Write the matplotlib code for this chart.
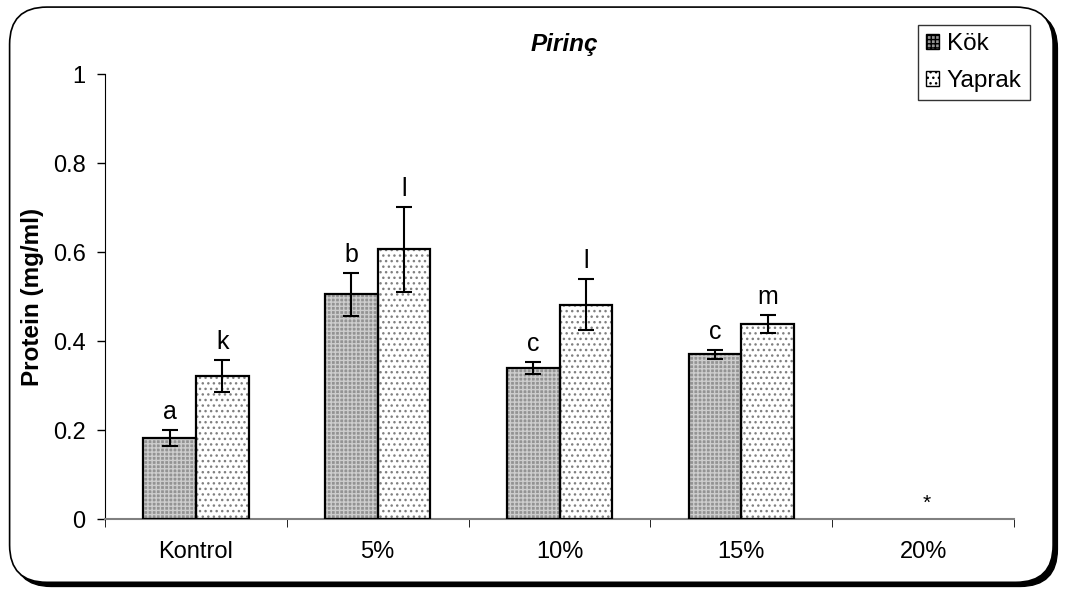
import numpy as np
import matplotlib.pyplot as plt
from matplotlib.patches import FancyBboxPatch, Patch

plt.rcParams['font.family'] = ['Liberation Sans', 'DejaVu Sans']
plt.rcParams['hatch.linewidth'] = 1.0

categories = ['Kontrol', '5%', '10%', '15%', '20%']
kok = [0.182, 0.505, 0.340, 0.370, 0.0]
kok_err = [0.018, 0.048, 0.013, 0.010, 0.0]
yaprak = [0.322, 0.606, 0.482, 0.438, 0.0]
yaprak_err = [0.036, 0.096, 0.058, 0.020, 0.0]
kok_letters = ['a', 'b', 'c', 'c', '']
yaprak_letters = ['k', 'l', 'l', 'm', '']

fig = plt.figure(figsize=(10.67, 5.9), dpi=100)

# rounded frame with shadow
shadow = FancyBboxPatch((0.013, 0.006), 0.978, 0.975, boxstyle="round,pad=0,rounding_size=0.035",
                        transform=fig.transFigure, facecolor='black', edgecolor='black',
                        mutation_aspect=1.8, zorder=-2)
frame = FancyBboxPatch((0.009, 0.013), 0.978, 0.975, boxstyle="round,pad=0,rounding_size=0.035",
                       transform=fig.transFigure, facecolor='white', edgecolor='black', lw=1.2,
                       mutation_aspect=1.8, zorder=-1)
fig.patches.extend([shadow, frame])

ax = fig.add_axes([0.0984, 0.1203, 0.852, 0.754])
ax.patch.set_alpha(0)

x = np.arange(len(categories))
w = 0.29

# Kök: gray with light grid of dots
ax.bar(x[:4] - w / 2, kok[:4], w, color='#939393', edgecolor='#cdcdcd', hatch='++++', lw=0, zorder=2)
ax.bar(x[:4] - w / 2, kok[:4], w, fill=False, edgecolor='black', lw=1.6, zorder=3)
# Yaprak: white with gray dots
ax.bar(x[:4] + w / 2, yaprak[:4], w, color='white', edgecolor='#808080', hatch='...', lw=0, zorder=2)
ax.bar(x[:4] + w / 2, yaprak[:4], w, fill=False, edgecolor='black', lw=1.6, zorder=3)

ax.errorbar(x[:4] - w / 2, kok[:4], yerr=kok_err[:4], fmt='none', ecolor='black',
            elinewidth=1.5, capsize=5.5, capthick=1.5, zorder=4)
ax.errorbar(x[:4] + w / 2, yaprak[:4], yerr=yaprak_err[:4], fmt='none', ecolor='black',
            elinewidth=1.5, capsize=5.5, capthick=1.5, zorder=4)

for i in range(4):
    ax.text(x[i] - w / 2, kok[i] + kok_err[i] + 0.014, kok_letters[i], ha='center', va='bottom', fontsize=18)
    ax.text(x[i] + w / 2, yaprak[i] + yaprak_err[i] + 0.014, yaprak_letters[i], ha='center', va='bottom', fontsize=18)
ax.text(x[4] + 0.02, 0.015, '*', ha='center', va='bottom', fontsize=15)

ax.set_xlim(-0.5, 4.5)
ax.set_ylim(0, 1)
ax.set_yticks(np.arange(0, 1.01, 0.2))
ax.set_yticklabels(['0', '0.2', '0.4', '0.6', '0.8', '1'], fontsize=17)
ax.set_xticks(x)
ax.set_xticklabels(categories, fontsize=17)
ax.set_xticks(np.arange(-0.5, 4.6, 1), minor=True)
ax.tick_params(axis='x', which='major', length=0, pad=16)
ax.tick_params(axis='x', which='minor', length=6, direction='out', color='black')
ax.tick_params(axis='y', length=6, direction='out', width=1, pad=8)

ax.spines['top'].set_visible(False)
ax.spines['right'].set_visible(False)
ax.spines['left'].set_color('black')
ax.spines['bottom'].set_color('#808080')
ax.spines['bottom'].set_linewidth(1.5)

ax.set_ylabel('Protein (mg/ml)', fontsize=17.5, fontweight='bold', labelpad=6)
fig.text(0.529, 0.924, 'Pirinç', ha='center', va='center', fontsize=17.5, fontweight='bold', style='italic')

handles = [Patch(facecolor='#939393', edgecolor='black', hatch='++++', label='Kök'),
           Patch(facecolor='white', edgecolor='black', hatch='...', label='Yaprak')]
leg = fig.legend(handles=handles, loc='upper left', bbox_to_anchor=(0.860, 0.958), fontsize=17.5,
                 frameon=True, fancybox=False, edgecolor='black', handlelength=0.55, handleheight=0.55,
                 handletextpad=0.3, borderpad=0.35, labelspacing=0.6, borderaxespad=0)
leg.get_frame().set_linewidth(1.0)

fig.savefig('out.png', dpi=100)
